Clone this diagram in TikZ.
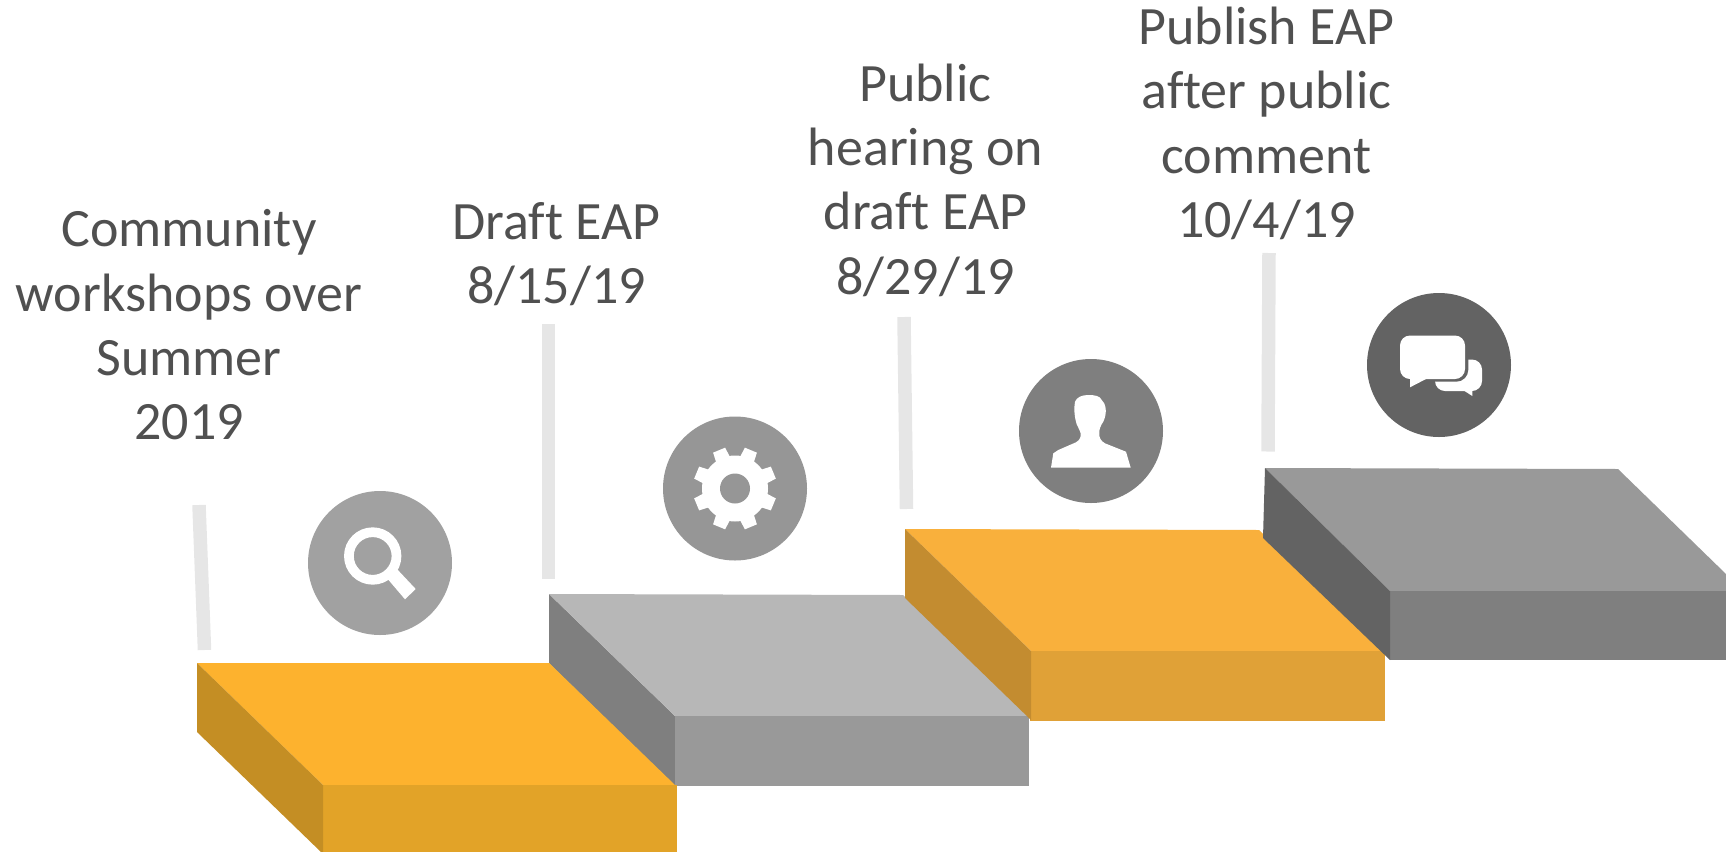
\documentclass[tikz,border=0pt]{standalone}
\usepackage{fontspec}
\setmainfont[Ligatures=NoCommon]{Carlito}
\definecolor{amberTop}{HTML}{FDB22E}
\definecolor{amberFront}{HTML}{E2A328}
\definecolor{amberSide}{HTML}{C48E24}
\definecolor{ochreTop}{HTML}{F9B03C}
\definecolor{ochreFront}{HTML}{E0A137}
\definecolor{ochreSide}{HTML}{C38C30}
\definecolor{greyTop}{HTML}{B7B7B7}
\definecolor{greyFront}{HTML}{999999}
\definecolor{greySide}{HTML}{7F7F7F}
\definecolor{darkSide}{HTML}{636363}
\definecolor{labelGrey}{HTML}{505050}
\definecolor{tickGrey}{HTML}{E6E6E6}
\tikzstyle{caption} = [align=center, text=labelGrey, font=\fontsize{27}{32.2}\selectfont]
\tikzstyle{tick}    = [line width=6.75pt, tickGrey]
\tikzstyle{badge}   = [circle, minimum size=72pt, inner sep=0pt]
\tikzstyle{glyph}   = [fill=white, draw=none]

\begin{document}
\begin{tikzpicture}[x=0.5pt,y=-0.5pt]
      \useasboundingbox (0,0) rectangle (1726,852);

      % steps
      \fill [amberTop]   (197,663) -- (549,663) -- (675,785) -- (323,785) -- cycle;
      \fill [greySide]   (549,594) -- (675,716) -- (675,786) -- (549,663) -- cycle;
      \fill [greyTop]    (549,594) -- (903,595) -- (1029,716) -- (675,716) -- cycle;
      \fill [greyFront]  (675,716) -- (1029,716) -- (1029,786) -- (675,786) -- cycle;
      \fill [amberTop]   (549,663) -- (675,785) -- (549,785) -- cycle;
      \fill [amberFront] (323,785) -- (677,785) -- (677,852) -- (323,852) -- cycle;
      \fill [amberSide]  (197,663) -- (323,785) -- (323,852) -- (321,852) -- (197,732) -- cycle;

      \fill [ochreTop]   (905,529) -- (1259,530) -- (1385,651) -- (1031,651) -- cycle;
      \fill [ochreFront] (1030,651) -- (1385,651) -- (1385,721) -- (1030,721) -- cycle;
      \fill [ochreSide]  (905,529) -- (1031,651) -- (1031,720) -- (905,598) -- cycle;

      \fill [greyFront]  (1265,468) -- (1618,469) -- (1726,574) -- (1726,591) -- (1390,591) -- cycle;
      \fill [greySide]   (1390,591) -- (1726,591) -- (1726,660) -- (1390,660) -- cycle;
      \fill [darkSide]   (1265,468) -- (1390,591) -- (1390,660) -- (1263,538) -- cycle;

      % ticks
      \coordinate (t1a) at (199,505); \coordinate (t1b) at (204.5,650);
      \coordinate (t2a) at (548.5,324); \coordinate (t2b) at (548.5,579);
      \coordinate (t3a) at (904,317); \coordinate (t3b) at (906.5,509);
      \coordinate (t4a) at (1269,253); \coordinate (t4b) at (1268,451.5);
      \draw [tick] (t1a) -- (t1b);
      \draw [tick] (t2a) -- (t2b);
      \draw [tick] (t3a) -- (t3b);
      \draw [tick] (t4a) -- (t4b);

      % labels
      \node (lab1) [caption] at (189,325) {Community\\workshops over\\Summer\\2019};
      \node (lab2) [caption] at (556.5,254) {Draft EAP\\8/15/19};
      \node (lab3) [caption] at (925.5,180) {Public\\hearing on\\draft EAP\\8/29/19};
      \node (lab4) [caption] at (1266.5,123.5) {Publish EAP\\after public\\comment\\10/4/19};

      % badges
      \node (bad1) [badge, fill=black!37] at (380,563) {};
      \node (bad2) [badge, fill=black!41] at (735,488.5) {};
      \node (bad3) [badge, fill=greySide] at (1091,431) {};
      \node (bad4) [badge, fill=darkSide] at (1439,365) {};

      % magnifier
      \draw [white, line width=4.85pt] (372.7,556) circle (23.8);
      \fill [glyph] (387.7,579) -- (396,568) -- (415.7,589) -- (405,599.3) -- cycle;

      % gear
      \begin{scope}[shift={(bad2)}]
        \fill [glyph] (0,0) circle (33);
        \foreach \a in {0,45,...,315}
          \fill [glyph, rotate=\a+22.5] (-7.5,-30) -- (-6.5,-41.5) -- (6.5,-41.5) -- (7.5,-30) -- cycle;
        \fill [black!41] (0,0) circle (15);
      \end{scope}

      % person
      \fill [glyph] (1051,467.7) -- (1053.3,453.3) -- (1058.3,450) -- (1076,442.3)
        .. controls (1080,440) and (1081,437) .. (1080.7,433.3)
        .. controls (1079,428) and (1076,424) .. (1076,421.7)
        .. controls (1074,414) and (1074,408) .. (1075,401.7)
        .. controls (1077,397) and (1082,395) .. (1088.3,395)
        .. controls (1095,395) and (1100,396) .. (1101.7,400)
        .. controls (1106,404) and (1106,410) .. (1105.7,413.3)
        .. controls (1105,418) and (1104,420) .. (1103.3,421.7)
        .. controls (1101,425) and (1099,429) .. (1099.3,433.3)
        .. controls (1099,438) and (1101,441) .. (1105,443.3)
        -- (1126,451.7) -- (1130.7,467.7) -- cycle;

      % speech bubbles
      \fill [glyph, rounded corners=5] (1435,359.5) rectangle (1482,391);
      \fill [glyph] (1463,390) -- (1472.3,396) -- (1472.3,390) -- cycle;
      \fill [darkSide, rounded corners=6] (1397,332) rectangle (1468.3,381.7);
      \fill [glyph, rounded corners=5] (1400,335.5) rectangle (1465,379);
      \fill [glyph] (1410,377) -- (1410,387.3) -- (1426,379) -- (1426,377) -- cycle;
\end{tikzpicture}
\end{document}
